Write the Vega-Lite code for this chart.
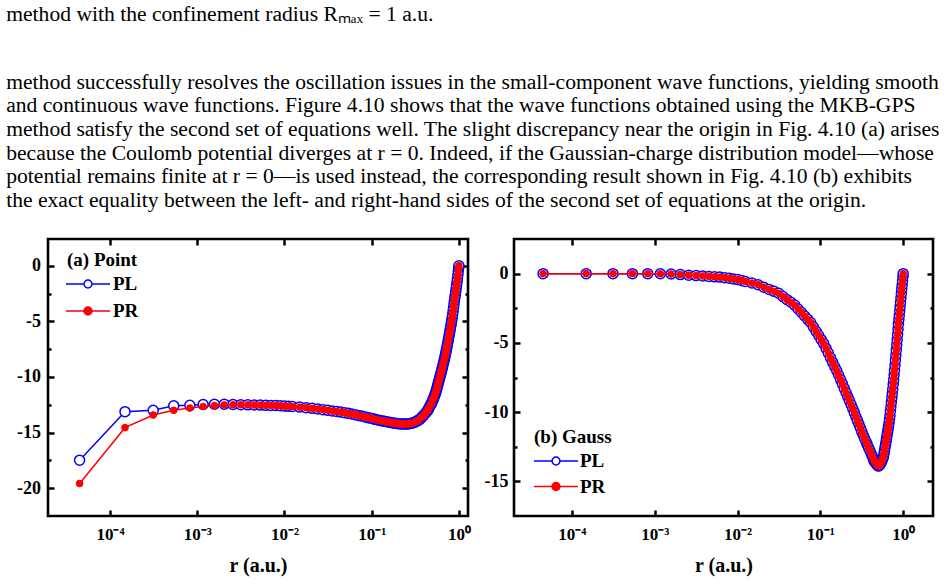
{
  "$schema": "https://vega.github.io/schema/vega-lite/v6.json",
  "background": "white",
  "padding": {"left": 6, "top": 4, "right": 5, "bottom": 5},
  "autosize": {"type": "pad"},
  "title": {
    "text": "method with the confinement radius Rₘₐₓ = 1 a.u.",
    "subtitle": [
      "method successfully resolves the oscillation issues in the small-component wave functions, yielding smooth",
      "and continuous wave functions.  Figure 4.10 shows that the wave functions obtained using the MKB-GPS",
      "method satisfy the second set of equations well. The slight discrepancy near the origin in Fig. 4.10 (a) arises",
      "because the Coulomb potential diverges at r = 0. Indeed, if the Gaussian-charge distribution model—whose",
      "potential remains finite at r = 0—is used instead, the corresponding result shown in Fig. 4.10 (b) exhibits",
      "the exact equality between the left- and right-hand sides of the second set of equations at the origin."
    ],
    "anchor": "start",
    "frame": "bounds",
    "font": "Liberation Serif",
    "fontSize": 21.6,
    "fontWeight": "normal",
    "color": "black",
    "subtitleFont": "Liberation Serif",
    "subtitleFontSize": 21.6,
    "subtitleColor": "black",
    "subtitleLineHeight": 23.6,
    "subtitlePadding": 46,
    "offset": 25,
    "dx": -9
  },
  "config": {
    "view": {"stroke": "black", "strokeWidth": 2.6, "fill": "white"},
    "axis": {
      "domain": false,
      "grid": false,
      "tickColor": "black",
      "tickWidth": 2.5,
      "labelFont": "Liberation Serif",
      "labelFontWeight": "bold",
      "labelFontSize": 18,
      "labelColor": "black",
      "labelFlush": false,
      "labelOverlap": false,
      "labelBound": false,
      "titleFont": "Liberation Serif",
      "titleFontWeight": "bold",
      "titleFontSize": 20,
      "titleColor": "black"
    }
  },
  "datasets": {
    "d": [
      {"r": 4.489e-5, "aL": -17.48, "aR": -19.58, "b": 0},
      {"r": 1.488e-4, "aL": -13.12, "aR": -14.56, "b": 0},
      {"r": 3.133e-4, "aL": -13.0, "aR": -13.42, "b": 0},
      {"r": 5.382e-4, "aL": -12.6, "aR": -13.0, "b": 0},
      {"r": 8.237e-4, "aL": -12.55, "aR": -12.8, "b": 0},
      {"r": 1.1696e-3, "aL": -12.48, "aR": -12.66, "b": -0.01},
      {"r": 1.5761e-3, "aL": -12.45, "aR": -12.57, "b": -0.03},
      {"r": 2.043e-3, "aL": -12.45, "aR": -12.52, "b": -0.07},
      {"r": 2.5705e-3, "aL": -12.47, "aR": -12.5, "b": -0.11},
      {"r": 3.1584e-3, "aL": -12.5, "aR": -12.5, "b": -0.14},
      {"r": 3.8069e-3, "aL": -12.51, "aR": -12.51, "b": -0.17},
      {"r": 4.5158e-3, "aL": -12.52, "aR": -12.52, "b": -0.2},
      {"r": 5.2853e-3, "aL": -12.53, "aR": -12.53, "b": -0.23},
      {"r": 6.1152e-3, "aL": -12.55, "aR": -12.55, "b": -0.25},
      {"r": 7.0057e-3, "aL": -12.56, "aR": -12.56, "b": -0.29},
      {"r": 7.9566e-3, "aL": -12.57, "aR": -12.57, "b": -0.33},
      {"r": 8.9681e-3, "aL": -12.59, "aR": -12.59, "b": -0.38},
      {"r": 0.01004, "aL": -12.62, "aR": -12.62, "b": -0.42},
      {"r": 0.011172, "aL": -12.64, "aR": -12.64, "b": -0.49},
      {"r": 0.012365, "aL": -12.66, "aR": -12.66, "b": -0.56},
      {"r": 0.014933, "aL": -12.71, "aR": -12.71, "b": -0.68},
      {"r": 0.017742, "aL": -12.76, "aR": -12.76, "b": -0.8},
      {"r": 0.020794, "aL": -12.82, "aR": -12.82, "b": -0.98},
      {"r": 0.024087, "aL": -12.88, "aR": -12.88, "b": -1.14},
      {"r": 0.027622, "aL": -12.94, "aR": -12.94, "b": -1.28},
      {"r": 0.0314, "aL": -13.0, "aR": -13.0, "b": -1.42},
      {"r": 0.035419, "aL": -13.06, "aR": -13.06, "b": -1.66},
      {"r": 0.039681, "aL": -13.11, "aR": -13.11, "b": -1.88},
      {"r": 0.044184, "aL": -13.16, "aR": -13.16, "b": -2.07},
      {"r": 0.048929, "aL": -13.21, "aR": -13.21, "b": -2.27},
      {"r": 0.053917, "aL": -13.27, "aR": -13.27, "b": -2.55},
      {"r": 0.059146, "aL": -13.33, "aR": -13.33, "b": -2.81},
      {"r": 0.064618, "aL": -13.39, "aR": -13.39, "b": -3.06},
      {"r": 0.070331, "aL": -13.46, "aR": -13.46, "b": -3.3},
      {"r": 0.076286, "aL": -13.52, "aR": -13.52, "b": -3.53},
      {"r": 0.082484, "aL": -13.58, "aR": -13.58, "b": -3.85},
      {"r": 0.088923, "aL": -13.64, "aR": -13.64, "b": -4.17},
      {"r": 0.095605, "aL": -13.7, "aR": -13.7, "b": -4.47},
      {"r": 0.102528, "aL": -13.76, "aR": -13.76, "b": -4.77},
      {"r": 0.109693, "aL": -13.81, "aR": -13.81, "b": -5.05},
      {"r": 0.117101, "aL": -13.86, "aR": -13.86, "b": -5.4},
      {"r": 0.12475, "aL": -13.91, "aR": -13.91, "b": -5.74},
      {"r": 0.132642, "aL": -13.95, "aR": -13.95, "b": -6.08},
      {"r": 0.140775, "aL": -13.99, "aR": -13.99, "b": -6.41},
      {"r": 0.14915, "aL": -14.03, "aR": -14.03, "b": -6.72},
      {"r": 0.157768, "aL": -14.07, "aR": -14.07, "b": -7.02},
      {"r": 0.166627, "aL": -14.1, "aR": -14.1, "b": -7.34},
      {"r": 0.175729, "aL": -14.13, "aR": -14.13, "b": -7.67},
      {"r": 0.185072, "aL": -14.16, "aR": -14.16, "b": -7.98},
      {"r": 0.194657, "aL": -14.18, "aR": -14.18, "b": -8.29},
      {"r": 0.204485, "aL": -14.2, "aR": -14.2, "b": -8.6},
      {"r": 0.214554, "aL": -14.22, "aR": -14.22, "b": -8.9},
      {"r": 0.224866, "aL": -14.23, "aR": -14.23, "b": -9.18},
      {"r": 0.235419, "aL": -14.23, "aR": -14.23, "b": -9.47},
      {"r": 0.246214, "aL": -14.23, "aR": -14.23, "b": -9.76},
      {"r": 0.257252, "aL": -14.22, "aR": -14.22, "b": -10.04},
      {"r": 0.268531, "aL": -14.2, "aR": -14.2, "b": -10.33},
      {"r": 0.280053, "aL": -14.18, "aR": -14.18, "b": -10.6},
      {"r": 0.291816, "aL": -14.15, "aR": -14.15, "b": -10.87},
      {"r": 0.303821, "aL": -14.1, "aR": -14.1, "b": -11.14},
      {"r": 0.316069, "aL": -14.04, "aR": -14.04, "b": -11.4},
      {"r": 0.328558, "aL": -13.97, "aR": -13.97, "b": -11.65},
      {"r": 0.34129, "aL": -13.9, "aR": -13.9, "b": -11.89},
      {"r": 0.354263, "aL": -13.82, "aR": -13.82, "b": -12.11},
      {"r": 0.367478, "aL": -13.7, "aR": -13.7, "b": -12.33},
      {"r": 0.380936, "aL": -13.57, "aR": -13.57, "b": -12.56},
      {"r": 0.394635, "aL": -13.45, "aR": -13.45, "b": -12.76},
      {"r": 0.408577, "aL": -13.31, "aR": -13.31, "b": -12.97},
      {"r": 0.42276, "aL": -13.17, "aR": -13.17, "b": -13.18},
      {"r": 0.437185, "aL": -13.03, "aR": -13.03, "b": -13.39},
      {"r": 0.444489, "aL": -12.92, "aR": -12.92, "b": -13.49},
      {"r": 0.451853, "aL": -12.82, "aR": -12.82, "b": -13.57},
      {"r": 0.459277, "aL": -12.71, "aR": -12.71, "b": -13.62},
      {"r": 0.466762, "aL": -12.61, "aR": -12.61, "b": -13.68},
      {"r": 0.474308, "aL": -12.5, "aR": -12.5, "b": -13.73},
      {"r": 0.481914, "aL": -12.4, "aR": -12.4, "b": -13.79},
      {"r": 0.48958, "aL": -12.29, "aR": -12.29, "b": -13.84},
      {"r": 0.497307, "aL": -12.16, "aR": -12.16, "b": -13.88},
      {"r": 0.505094, "aL": -12.03, "aR": -12.03, "b": -13.88},
      {"r": 0.512942, "aL": -11.9, "aR": -11.9, "b": -13.85},
      {"r": 0.520851, "aL": -11.77, "aR": -11.77, "b": -13.81},
      {"r": 0.52882, "aL": -11.63, "aR": -11.63, "b": -13.75},
      {"r": 0.536849, "aL": -11.5, "aR": -11.5, "b": -13.68},
      {"r": 0.544939, "aL": -11.34, "aR": -11.34, "b": -13.6},
      {"r": 0.55309, "aL": -11.16, "aR": -11.16, "b": -13.51},
      {"r": 0.561301, "aL": -10.97, "aR": -10.97, "b": -13.41},
      {"r": 0.569572, "aL": -10.78, "aR": -10.78, "b": -13.3},
      {"r": 0.577904, "aL": -10.59, "aR": -10.59, "b": -13.2},
      {"r": 0.586296, "aL": -10.41, "aR": -10.41, "b": -12.99},
      {"r": 0.594749, "aL": -10.24, "aR": -10.24, "b": -12.78},
      {"r": 0.603263, "aL": -10.06, "aR": -10.06, "b": -12.56},
      {"r": 0.611837, "aL": -9.88, "aR": -9.88, "b": -12.35},
      {"r": 0.620471, "aL": -9.7, "aR": -9.7, "b": -12.13},
      {"r": 0.629166, "aL": -9.52, "aR": -9.52, "b": -11.91},
      {"r": 0.637922, "aL": -9.34, "aR": -9.34, "b": -11.7},
      {"r": 0.646738, "aL": -9.15, "aR": -9.15, "b": -11.48},
      {"r": 0.655614, "aL": -8.96, "aR": -8.96, "b": -11.26},
      {"r": 0.664551, "aL": -8.76, "aR": -8.76, "b": -11.03},
      {"r": 0.673548, "aL": -8.57, "aR": -8.57, "b": -10.81},
      {"r": 0.682606, "aL": -8.37, "aR": -8.37, "b": -10.54},
      {"r": 0.691725, "aL": -8.17, "aR": -8.17, "b": -10.27},
      {"r": 0.700904, "aL": -7.96, "aR": -7.96, "b": -9.92},
      {"r": 0.710143, "aL": -7.75, "aR": -7.75, "b": -9.61},
      {"r": 0.719443, "aL": -7.53, "aR": -7.53, "b": -9.29},
      {"r": 0.728804, "aL": -7.31, "aR": -7.31, "b": -8.97},
      {"r": 0.738225, "aL": -7.09, "aR": -7.09, "b": -8.65},
      {"r": 0.747706, "aL": -6.86, "aR": -6.86, "b": -8.33},
      {"r": 0.757248, "aL": -6.63, "aR": -6.63, "b": -7.99},
      {"r": 0.76685, "aL": -6.39, "aR": -6.39, "b": -7.66},
      {"r": 0.776513, "aL": -6.15, "aR": -6.15, "b": -7.32},
      {"r": 0.786237, "aL": -5.92, "aR": -5.92, "b": -6.97},
      {"r": 0.796021, "aL": -5.68, "aR": -5.68, "b": -6.61},
      {"r": 0.805865, "aL": -5.44, "aR": -5.44, "b": -6.24},
      {"r": 0.81577, "aL": -5.19, "aR": -5.19, "b": -5.88},
      {"r": 0.825736, "aL": -4.95, "aR": -4.95, "b": -5.51},
      {"r": 0.835762, "aL": -4.7, "aR": -4.7, "b": -5.14},
      {"r": 0.845848, "aL": -4.42, "aR": -4.42, "b": -4.77},
      {"r": 0.855995, "aL": -4.11, "aR": -4.11, "b": -4.39},
      {"r": 0.866202, "aL": -3.8, "aR": -3.8, "b": -4.01},
      {"r": 0.87647, "aL": -3.48, "aR": -3.48, "b": -3.63},
      {"r": 0.886799, "aL": -3.19, "aR": -3.19, "b": -3.32},
      {"r": 0.897188, "aL": -2.91, "aR": -2.91, "b": -3.01},
      {"r": 0.907637, "aL": -2.63, "aR": -2.63, "b": -2.7},
      {"r": 0.918147, "aL": -2.35, "aR": -2.35, "b": -2.38},
      {"r": 0.928718, "aL": -2.06, "aR": -2.06, "b": -2.06},
      {"r": 0.939349, "aL": -1.77, "aR": -1.77, "b": -1.74},
      {"r": 0.95004, "aL": -1.48, "aR": -1.48, "b": -1.42},
      {"r": 0.960792, "aL": -1.18, "aR": -1.18, "b": -1.1},
      {"r": 0.971604, "aL": -0.86, "aR": -0.86, "b": -0.82},
      {"r": 0.982477, "aL": -0.53, "aR": -0.53, "b": -0.54},
      {"r": 0.993411, "aL": -0.2, "aR": -0.2, "b": -0.22},
      {"r": 1.0, "aL": 0, "aR": 0, "b": 0}
    ]
  },
  "resolve": {"scale": {"stroke": "independent", "fill": "independent"}},
  "spacing": 10,
  "hconcat": [
    {
      "width": 420,
      "height": 277,
      "data": {"name": "d"},
      "resolve": {"axis": {"x": "independent", "y": "independent"}},
      "layer": [
        {
          "mark": {"type": "line", "strokeWidth": 1.5},
          "encoding": {
            "x": {"field": "r", "type": "quantitative",
              "scale": {"type": "log", "domain": [1.95e-5, 1.27], "nice": false},
              "axis": {"orient": "bottom", "values": [0.0001, 0.001, 0.01, 0.1, 1], "tickSize": -6, "labelPadding": 16, "labelFontSize": 17,
                "labelExpr": "datum.value >= 0.5 ? '10⁰' : datum.value >= 0.05 ? '10⁻¹' : datum.value >= 0.005 ? '10⁻²' : datum.value >= 0.0005 ? '10⁻³' : '10⁻⁴'",
                "title": "r (a.u.)", "titlePadding": 13}},
            "y": {"field": "aL", "type": "quantitative",
              "scale": {"domain": [-22.5, 2.4], "nice": false, "zero": false},
              "axis": {"orient": "left", "values": [-20, -15, -10, -5, 0], "tickSize": -6, "labelPadding": 13.5, "title": null,
                "labelExpr": "datum.value < 0 ? '-' + (-datum.value) : '' + datum.value"}},
            "stroke": {"datum": "PL", "scale": {"domain": ["PL", "PR"], "range": ["#0000ff", "#ff0000"]},
              "legend": {"title": "(a) Point", "orient": "top-left", "offset": 12, "padding": 0,
                "symbolType": "M-2,0H-0.36M0.36,0H2M0.36,0A0.36,0.36,0,1,1,-0.36,0A0.36,0.36,0,1,1,0.36,0",
                "symbolSize": 484, "symbolStrokeWidth": 1.5, "symbolOffset": 16, "labelOffset": 13,
                "rowPadding": 5, "titlePadding": 2,
                "titleFont": "Liberation Serif", "titleFontSize": 19, "titleFontWeight": "bold", "titleColor": "black",
                "labelFont": "Liberation Serif", "labelFontSize": 19, "labelFontWeight": "bold", "labelColor": "black",
                "encode": {"title": {"update": {"dx": {"value": 7}}}}}}
          }
        },
        {
          "mark": {"type": "point", "shape": "circle", "filled": true, "size": 100, "strokeWidth": 1.5, "opacity": 1},
          "encoding": {
            "x": {"field": "r", "type": "quantitative",
              "scale": {"type": "log", "domain": [1.95e-5, 1.27], "nice": false},
              "axis": {"orient": "top", "values": [0.0001, 0.001, 0.01, 0.1, 1], "tickSize": -6, "labels": false, "title": null}},
            "y": {"field": "aL", "type": "quantitative",
              "scale": {"domain": [-22.5, 2.4], "nice": false, "zero": false},
              "axis": {"orient": "right", "values": [-20, -15, -10, -5, 0], "tickSize": -6, "labels": false, "title": null}},
            "stroke": {"datum": "PL", "scale": {"domain": ["PL", "PR"], "range": ["#0000ff", "#ff0000"]}},
            "fill": {"datum": "PL", "scale": {"domain": ["PL", "PR"], "range": ["#ffffff", "#ff0000"]},
              "legend": {"title": "(a) Point", "orient": "top-left", "offset": 12, "padding": 0,
                "symbolType": "M-2,0H-0.36M0.36,0H2M0.36,0A0.36,0.36,0,1,1,-0.36,0A0.36,0.36,0,1,1,0.36,0",
                "symbolSize": 484, "symbolStrokeWidth": 1.5, "symbolOffset": 16, "labelOffset": 13,
                "rowPadding": 5, "titlePadding": 2,
                "titleFont": "Liberation Serif", "titleFontSize": 19, "titleFontWeight": "bold", "titleColor": "black",
                "labelFont": "Liberation Serif", "labelFontSize": 19, "labelFontWeight": "bold", "labelColor": "black",
                "encode": {"title": {"update": {"dx": {"value": 7}}}}}}
          }
        },
        {
          "mark": {"type": "line", "strokeWidth": 1.5},
          "encoding": {
            "x": {"field": "r", "type": "quantitative",
              "scale": {"type": "log", "domain": [1.95e-5, 1.27], "nice": false}, "axis": null},
            "y": {"field": "aR", "type": "quantitative",
              "scale": {"domain": [-22.5, 2.4], "nice": false, "zero": false},
              "axis": {"orient": "left", "values": [-17.5, -12.5, -7.5, -2.5], "tickSize": -3, "labels": false, "title": null}},
            "stroke": {"datum": "PR", "scale": {"domain": ["PL", "PR"], "range": ["#0000ff", "#ff0000"]}}
          }
        },
        {
          "mark": {"type": "point", "shape": "circle", "filled": true, "size": 45, "strokeWidth": 1, "opacity": 1},
          "encoding": {
            "x": {"field": "r", "type": "quantitative",
              "scale": {"type": "log", "domain": [1.95e-5, 1.27], "nice": false}, "axis": null},
            "y": {"field": "aR", "type": "quantitative",
              "scale": {"domain": [-22.5, 2.4], "nice": false, "zero": false},
              "axis": {"orient": "right", "values": [-17.5, -12.5, -7.5, -2.5], "tickSize": -3, "labels": false, "title": null}},
            "stroke": {"datum": "PR", "scale": {"domain": ["PL", "PR"], "range": ["#0000ff", "#ff0000"]}},
            "fill": {"datum": "PR", "scale": {"domain": ["PL", "PR"], "range": ["#ffffff", "#ff0000"]}}
          }
        }
      ]
    },
    {
      "width": 419,
      "height": 277,
      "data": {"name": "d"},
      "resolve": {"axis": {"x": "independent", "y": "independent"}},
      "layer": [
        {
          "mark": {"type": "line", "strokeWidth": 1.5},
          "encoding": {
            "x": {"field": "r", "type": "quantitative",
              "scale": {"type": "log", "domain": [2.0e-5, 2.29], "nice": false},
              "axis": {"orient": "bottom", "values": [0.0001, 0.001, 0.01, 0.1, 1], "tickSize": -6, "labelPadding": 16, "labelFontSize": 17,
                "labelExpr": "datum.value >= 0.5 ? '10⁰' : datum.value >= 0.05 ? '10⁻¹' : datum.value >= 0.005 ? '10⁻²' : datum.value >= 0.0005 ? '10⁻³' : '10⁻⁴'",
                "title": "r (a.u.)", "titlePadding": 13}},
            "y": {"field": "b", "type": "quantitative",
              "scale": {"domain": [-17.5, 2.5], "nice": false, "zero": false},
              "axis": {"orient": "left", "values": [-15, -10, -5, 0], "tickSize": -6, "labelPadding": 12, "title": null,
                "labelExpr": "datum.value < 0 ? '-' + (-datum.value) : '' + datum.value"}},
            "stroke": {"datum": "PL", "scale": {"domain": ["PL", "PR"], "range": ["#0000ff", "#ff0000"]},
              "legend": {"title": "(b) Gauss", "orient": "bottom-left", "offset": 19, "padding": 0,
                "symbolType": "M-2,0H-0.36M0.36,0H2M0.36,0A0.36,0.36,0,1,1,-0.36,0A0.36,0.36,0,1,1,0.36,0",
                "symbolSize": 484, "symbolStrokeWidth": 1.5, "symbolOffset": 11, "labelOffset": 12,
                "rowPadding": 3.5, "titlePadding": 2,
                "titleFont": "Liberation Serif", "titleFontSize": 19, "titleFontWeight": "bold", "titleColor": "black",
                "labelFont": "Liberation Serif", "labelFontSize": 19, "labelFontWeight": "bold", "labelColor": "black",
                "encode": {"title": {"update": {"dx": {"value": 1}}}}}}
          }
        },
        {
          "mark": {"type": "point", "shape": "circle", "filled": true, "size": 100, "strokeWidth": 1.5, "opacity": 1},
          "encoding": {
            "x": {"field": "r", "type": "quantitative",
              "scale": {"type": "log", "domain": [2.0e-5, 2.29], "nice": false},
              "axis": {"orient": "top", "values": [0.0001, 0.001, 0.01, 0.1, 1], "tickSize": -6, "labels": false, "title": null}},
            "y": {"field": "b", "type": "quantitative",
              "scale": {"domain": [-17.5, 2.5], "nice": false, "zero": false},
              "axis": {"orient": "right", "values": [-15, -10, -5, 0], "tickSize": -6, "labels": false, "title": null}},
            "stroke": {"datum": "PL", "scale": {"domain": ["PL", "PR"], "range": ["#0000ff", "#ff0000"]}},
            "fill": {"datum": "PL", "scale": {"domain": ["PL", "PR"], "range": ["#ffffff", "#ff0000"]},
              "legend": {"title": "(b) Gauss", "orient": "bottom-left", "offset": 19, "padding": 0,
                "symbolType": "M-2,0H-0.36M0.36,0H2M0.36,0A0.36,0.36,0,1,1,-0.36,0A0.36,0.36,0,1,1,0.36,0",
                "symbolSize": 484, "symbolStrokeWidth": 1.5, "symbolOffset": 11, "labelOffset": 12,
                "rowPadding": 3.5, "titlePadding": 2,
                "titleFont": "Liberation Serif", "titleFontSize": 19, "titleFontWeight": "bold", "titleColor": "black",
                "labelFont": "Liberation Serif", "labelFontSize": 19, "labelFontWeight": "bold", "labelColor": "black",
                "encode": {"title": {"update": {"dx": {"value": 1}}}}}}
          }
        },
        {
          "mark": {"type": "line", "strokeWidth": 1.5},
          "encoding": {
            "x": {"field": "r", "type": "quantitative",
              "scale": {"type": "log", "domain": [2.0e-5, 2.29], "nice": false}, "axis": null},
            "y": {"field": "b", "type": "quantitative",
              "scale": {"domain": [-17.5, 2.5], "nice": false, "zero": false},
              "axis": {"orient": "left", "values": [-12.5, -7.5, -2.5], "tickSize": -3, "labels": false, "title": null}},
            "stroke": {"datum": "PR", "scale": {"domain": ["PL", "PR"], "range": ["#0000ff", "#ff0000"]}}
          }
        },
        {
          "mark": {"type": "point", "shape": "circle", "filled": true, "size": 45, "strokeWidth": 1, "opacity": 1},
          "encoding": {
            "x": {"field": "r", "type": "quantitative",
              "scale": {"type": "log", "domain": [2.0e-5, 2.29], "nice": false}, "axis": null},
            "y": {"field": "b", "type": "quantitative",
              "scale": {"domain": [-17.5, 2.5], "nice": false, "zero": false},
              "axis": {"orient": "right", "values": [-12.5, -7.5, -2.5], "tickSize": -3, "labels": false, "title": null}},
            "stroke": {"datum": "PR", "scale": {"domain": ["PL", "PR"], "range": ["#0000ff", "#ff0000"]}},
            "fill": {"datum": "PR", "scale": {"domain": ["PL", "PR"], "range": ["#ffffff", "#ff0000"]}}
          }
        }
      ]
    }
  ]
}
